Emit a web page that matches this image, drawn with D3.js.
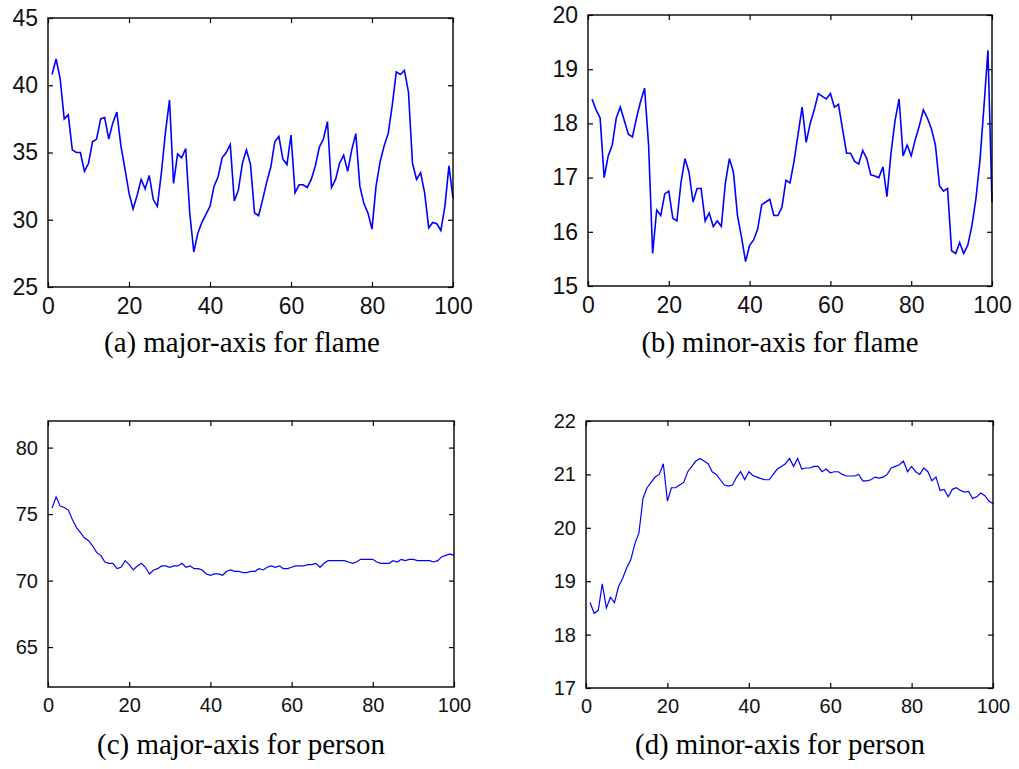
<!DOCTYPE html>
<html>
<head>
<meta charset="utf-8">
<script src="https://cdn.jsdelivr.net/npm/d3@7"></script>
<style>
  body { margin: 0; background: #fff; }
  svg { display: block; }
</style>
</head>
<body>
<div class="canvas"></div>
<script>
// values, sample index 1..100
const majorFlame = [
  40.8, 41.95, 40.5, 37.5, 37.8, 35.2, 35.0, 35.0, 33.6, 34.2,
  35.8, 36.0, 37.5, 37.6, 36.0, 37.2, 38.0, 35.5, 33.8, 32.0,
  30.8, 31.8, 33.0, 32.3, 33.3, 31.5, 31.0, 33.5, 36.5, 38.9,
  32.7, 34.9, 34.6, 35.3, 30.5, 27.6, 29.0, 29.8, 30.4, 31.0,
  32.5, 33.2, 34.6, 35.0, 35.6, 31.4, 32.2, 34.2, 35.2, 34.1,
  30.5, 30.3, 31.5, 32.8, 33.9, 35.8, 36.2, 34.5, 34.1, 36.3,
  32.0, 32.6, 32.6, 32.4, 33.0, 34.0, 35.4, 36.0, 37.3, 32.4,
  33.0, 34.2, 34.8, 33.6, 35.2, 36.4, 32.5, 31.2, 30.5, 29.3,
  32.5, 34.3, 35.5, 36.4, 38.5, 41.0, 40.8, 41.1, 39.5, 34.2,
  33.0, 33.5, 32.0, 29.4, 29.8, 29.7, 29.2, 31.0, 34.0, 31.6
]
const minorFlame = [
  18.45, 18.25, 18.1, 17.0, 17.4, 17.6, 18.1, 18.3, 18.05, 17.8,
  17.75, 18.1, 18.4, 18.65, 17.6, 15.6, 16.4, 16.3, 16.7, 16.75,
  16.25, 16.2, 16.9, 17.35, 17.1, 16.55, 16.8, 16.8, 16.2, 16.35,
  16.1, 16.2, 16.1, 16.9, 17.35, 17.1, 16.3, 15.9, 15.45, 15.75,
  15.85, 16.05, 16.5, 16.55, 16.6, 16.3, 16.3, 16.45, 16.95, 16.9,
  17.3, 17.8, 18.3, 17.65, 18.0, 18.25, 18.55, 18.5, 18.45, 18.55,
  18.3, 18.35, 17.9, 17.45, 17.45, 17.3, 17.25, 17.5, 17.35, 17.05,
  17.03, 17.0, 17.2, 16.65, 17.45, 18.05, 18.45, 17.4, 17.6, 17.4,
  17.7, 17.95, 18.25, 18.1, 17.9, 17.6, 16.85, 16.75, 16.8, 15.65,
  15.6, 15.8, 15.6, 15.75, 16.1, 16.6, 17.3, 18.3, 19.35, 16.55
]
const majorPerson = [
  75.45, 76.3, 75.6, 75.5, 75.3, 74.6, 74.0, 73.6, 73.2, 73.0,
  72.6, 72.1, 71.9, 71.4, 71.3, 71.3, 70.9, 71.0, 71.5, 71.2,
  70.8, 71.1, 71.3, 71.0, 70.5, 70.8, 70.9, 71.1, 71.1, 71.0,
  71.1, 71.1, 71.3, 71.0, 71.1, 70.9, 70.9, 70.8, 70.5, 70.4,
  70.5, 70.5, 70.4, 70.7, 70.8, 70.7, 70.7, 70.6, 70.6, 70.7,
  70.7, 70.9, 70.8, 71.0, 71.1, 71.0, 71.1, 70.9, 70.9, 71.0,
  71.1, 71.1, 71.1, 71.2, 71.2, 71.3, 71.0, 71.3, 71.5, 71.5,
  71.5, 71.5, 71.5, 71.4, 71.3, 71.4, 71.6, 71.6, 71.6, 71.6,
  71.4, 71.3, 71.3, 71.3, 71.5, 71.4, 71.6, 71.5, 71.6, 71.6,
  71.5, 71.5, 71.5, 71.5, 71.4, 71.5, 71.8, 71.9, 72.0, 71.9
]
const minorPerson = [
  18.6, 18.4, 18.45, 18.95, 18.5, 18.7, 18.6, 18.9, 19.05, 19.25,
  19.4, 19.7, 19.9, 20.55, 20.75, 20.85, 20.95, 21.0, 21.2, 20.5,
  20.75, 20.75, 20.8, 20.85, 21.05, 21.15, 21.25, 21.3, 21.25, 21.2,
  21.05, 21.0, 20.9, 20.8, 20.78, 20.8, 20.95, 21.05, 20.9, 21.05,
  20.98, 20.95, 20.92, 20.9, 20.9, 21.0, 21.1, 21.15, 21.2, 21.3,
  21.15, 21.3, 21.1, 21.12, 21.12, 21.15, 21.15, 21.05, 21.1, 21.03,
  21.05, 21.05, 21.0, 20.97, 20.97, 20.97, 21.0, 20.88, 20.88, 20.9,
  20.95, 20.93, 20.95, 21.0, 21.12, 21.15, 21.18, 21.25, 21.05, 21.15,
  21.05, 21.0, 21.12, 21.05, 20.88, 20.95, 20.7, 20.72, 20.58, 20.72,
  20.75, 20.7, 20.67, 20.68, 20.55, 20.58, 20.65, 20.6, 20.5, 20.45
]

const xTicks = [0, 20, 40, 60, 80, 100]
const yTicksA = [25, 30, 35, 40, 45]
const yTicksB = [15, 16, 17, 18, 19, 20]
const yTicksC = [65, 70, 75, 80]
const yTicksD = [17, 18, 19, 20, 21, 22]
const captions = [
  '(a) major-axis for flame',
  '(b) minor-axis for flame',
  '(c) major-axis for person',
  '(d) minor-axis for person'
]

const panels = [
  { values: majorFlame, yDomain: [25, 45], yTicks: yTicksA, caption: captions[0],
    left: 48, top: 18, width: 405, height: 269, font: 23, lw: 1.6, capY: 352, capX: 242, capW: 276 },
  { values: minorFlame, yDomain: [15, 20], yTicks: yTicksB, caption: captions[1],
    left: 588, top: 15, width: 404, height: 271, font: 23, lw: 1.6, capY: 352, capX: 780, capW: 277 },
  { values: majorPerson, yDomain: [62, 82], yTicks: yTicksC, caption: captions[2],
    left: 48, top: 421, width: 406, height: 266, font: 20, lw: 1.2, capY: 754, capX: 241, capW: 288 },
  { values: minorPerson, yDomain: [17, 22], yTicks: yTicksD, caption: captions[3],
    left: 586, top: 421, width: 407, height: 267, font: 20, lw: 1.2, capY: 754, capX: 780, capW: 290 }
]

const svg = d3.select('.canvas')
    .append('svg')
    .attr('width', 1019)
    .attr('height', 769)

panels.forEach(p => {
    const x = d3.scaleLinear()
        .domain([0, 100])
        .range([0, p.width])
    const y = d3.scaleLinear()
        .domain(p.yDomain)
        .range([p.height, 0])

    const graph = svg.append('g')
        .attr('transform', `translate(${p.left},${p.top})`)

    // matlab style: ticks point inwards on all four sides
    graph.append('g')
        .attr('transform', `translate(0,${p.height})`)
        .call(d3.axisBottom(x).tickValues(xTicks).tickFormat(d3.format('d'))
            .tickSizeInner(-5).tickSizeOuter(0).tickPadding(11))
    graph.append('g')
        .call(d3.axisLeft(y).tickValues(p.yTicks).tickFormat(d3.format('d'))
            .tickSizeInner(-5).tickSizeOuter(0).tickPadding(10))
    graph.append('g')
        .call(d3.axisTop(x).tickValues(xTicks).tickSizeInner(-5).tickSizeOuter(0).tickFormat(''))
    graph.append('g')
        .attr('transform', `translate(${p.width},0)`)
        .call(d3.axisRight(y).tickValues(p.yTicks).tickSizeInner(-5).tickSizeOuter(0).tickFormat(''))

    graph.selectAll('.domain').remove()
    graph.selectAll('.tick line').attr('stroke', '#000').attr('stroke-width', 1.2)
    graph.selectAll('.tick text')
        .attr('fill', '#111')
        .style('font-family', '"Liberation Sans", Arial, sans-serif')
        .style('font-size', p.font + 'px')

    const line = d3.line()
        .x((d, i) => x(i + 1))
        .y(d => y(d))

    graph.append('path')
        .datum(p.values)
        .attr('d', line)
        .attr('fill', 'none')
        .attr('stroke', '#0000ff')
        .attr('stroke-width', p.lw)
        .attr('stroke-linejoin', 'miter')

    graph.append('rect')
        .attr('width', p.width)
        .attr('height', p.height)
        .attr('fill', 'none')
        .attr('stroke', '#000')
        .attr('stroke-width', 1.4)

    // caption under each panel, sized to the width it has in the figure
    const cap = svg.append('text')
        .attr('x', p.capX)
        .attr('y', p.capY)
        .attr('text-anchor', 'middle')
        .style('font-family', '"Liberation Serif", "Times New Roman", serif')
        .style('font-size', '22px')
        .attr('fill', '#000')
        .text(p.caption)
    const w = cap.node().getComputedTextLength()
    cap.style('font-size', (22 * p.capW / w) + 'px')
})
</script>
</body>
</html>
